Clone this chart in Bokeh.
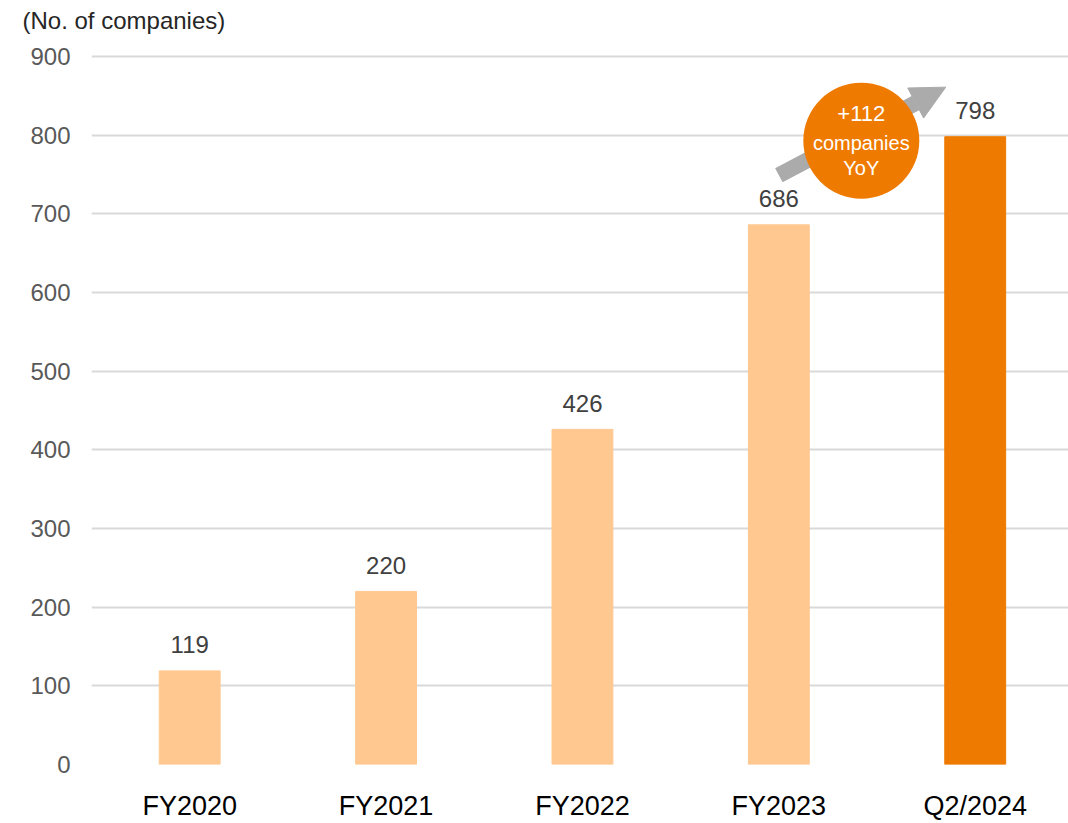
from bokeh.plotting import figure
from bokeh.models import Range1d, FixedTicker, ColumnDataSource, Arrow, NormalHead
from bokeh.core.properties import value
from bokeh.embed import file_html
from bokeh.resources import INLINE

# Number of companies by period
categories = ["FY2020", "FY2021", "FY2022", "FY2023", "Q2/2024"]
companies = [119, 220, 426, 686, 798]
y_ticks = [0, 100, 200, 300, 400, 500, 600, 700, 800, 900]

LIGHT = "#FFC891"
DARK = "#EF7A00"
FONT = "Liberation Sans"

xs = list(range(len(categories)))
colors = [LIGHT] * (len(categories) - 1) + [DARK]
yoy = companies[-1] - companies[-2]

src = ColumnDataSource(dict(
    x=xs, top=companies, color=colors,
    label=[str(v) for v in companies],
))

p = figure(
    width=1068, height=823,
    x_range=Range1d(-0.5, 4.475), y_range=Range1d(0, 929.2),
    output_backend="svg", toolbar_location=None,
    title="(No. of companies)", title_location="above",
    min_border_left=91, min_border_right=0, min_border_top=33, min_border_bottom=58,
)
p.outline_line_color = None
p.background_fill_color = "white"
p.border_fill_color = "white"

p.title.align = "left"
p.title.offset = -69
p.title.text_font = FONT
p.title.text_font_size = "24px"
p.title.text_font_style = "normal"
p.title.text_color = "#262626"
p.title.standoff = 0

p.vbar(x="x", top="top", width=0.31, color="color", source=src)

# value labels above the bars
p.text(x="x", y="top", text="label", source=src,
       text_font=value(FONT), text_font_size="24px", text_color="#404040",
       text_align="center", text_baseline="alphabetic", y_offset=-26)

# axes
p.xgrid.grid_line_color = None
p.ygrid.grid_line_color = "#D9D9D9"
p.ygrid.grid_line_width = 2
p.yaxis.ticker = FixedTicker(ticks=y_ticks)
p.xaxis.ticker = FixedTicker(ticks=xs)
p.xaxis.major_label_overrides = {i: c for i, c in enumerate(categories)}

for ax in (p.xaxis[0], p.yaxis[0]):
    ax.axis_line_color = None
    ax.major_tick_line_color = None
    ax.minor_tick_line_color = None
    ax.major_tick_out = 0
    ax.major_tick_in = 0
    ax.minor_tick_out = 0
    ax.major_label_text_font = FONT

p.yaxis.major_label_text_font_size = "24px"
p.yaxis.major_label_text_color = "#595959"
p.yaxis.major_label_standoff = 21
p.xaxis.major_label_text_font_size = "27px"
p.xaxis.major_label_text_color = "#000000"
p.xaxis.major_label_standoff = 26

# growth arrow from FY2023 towards Q2/2024, kept beneath the badge
p.add_layout(Arrow(
    x_start=3.0, y_start=749, x_end=3.85, y_end=861,
    line_color="#ABABAB", line_width=16, level="underlay",
    end=NormalHead(size=34, fill_color="#ABABAB", line_color="#ABABAB"),
))

# YoY badge
cx, cy = 3.42, 793
p.scatter(x=[cx], y=[cy], size=116, marker="circle", fill_color=DARK, line_color=None)
badge = [(f"+{yoy}", -27, "22px"), ("companies", 2, "20px"), ("YoY", 27, "20px")]
for txt, off, fs in badge:
    p.text(x=[cx], y=[cy], text=[txt], text_font=value(FONT), text_font_size=fs,
           text_color="white", text_align="center", text_baseline="middle", y_offset=off)

open("out.html", "w").write(file_html(p, INLINE))
